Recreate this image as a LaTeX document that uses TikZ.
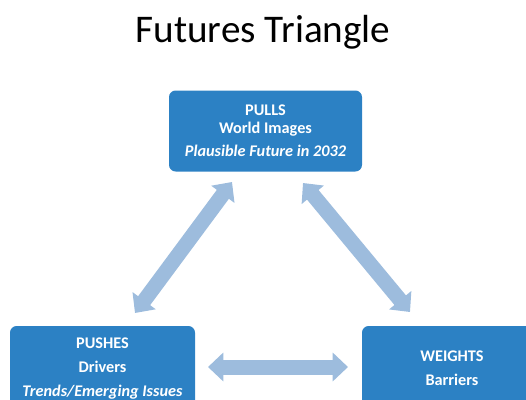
\documentclass[tikz,border=0pt]{standalone}
\usepackage{fontspec}
\setmainfont{Carlito}
\usetikzlibrary{arrows.meta}
\definecolor{boxblue}{RGB}{44,129,196}
\definecolor{arrowblue}{RGB}{157,188,221}
\tikzset{
  card/.style={fill=boxblue, rounded corners=5pt, text=white, font=\fontsize{12.2}{14.5}\selectfont\bfseries, align=center, inner sep=0pt},
  twoway/.style={draw=arrowblue, line width=11.25pt,
    {Triangle[length=11.5pt,width=21pt]}-{Triangle[length=11.5pt,width=21pt]}}
}
\begin{document}
\begin{tikzpicture}[x=0.75pt,y=-0.75pt]
\useasboundingbox (0,0) rectangle (526,400);
\clip (0,0) rectangle (526,400);
\node[font=\fontsize{29.4}{35}\selectfont, anchor=base] (title) at (263,42) {Futures Triangle};
\node[card, minimum width=193*0.75pt, minimum height=81*0.75pt] (pulls) at (265.5,131)
  {PULLS\\[-1.5pt] World Images\\[3pt] \itshape Plausible Future in 2032};
\node[card, minimum width=185*0.75pt, minimum height=85*0.75pt] (pushes) at (102.5,368.5)
  {PUSHES\\[3.5pt] Drivers\\[3.5pt] \itshape Trends/Emerging Issues};
\node[card, minimum width=180*0.75pt, minimum height=84*0.75pt] (weights) at (452,368)
  {WEIGHTS\\[3.5pt] Barriers};
\coordinate (l1) at (135,313);
\coordinate (l2) at (232,182);
\coordinate (r1) at (303,183);
\coordinate (r2) at (410,312);
\coordinate (h1) at (208,367);
\coordinate (h2) at (348,367);
\draw[twoway] (l1) -- (l2);
\draw[twoway] (r1) -- (r2);
\draw[twoway] (h1) -- (h2);
\end{tikzpicture}
\end{document}
